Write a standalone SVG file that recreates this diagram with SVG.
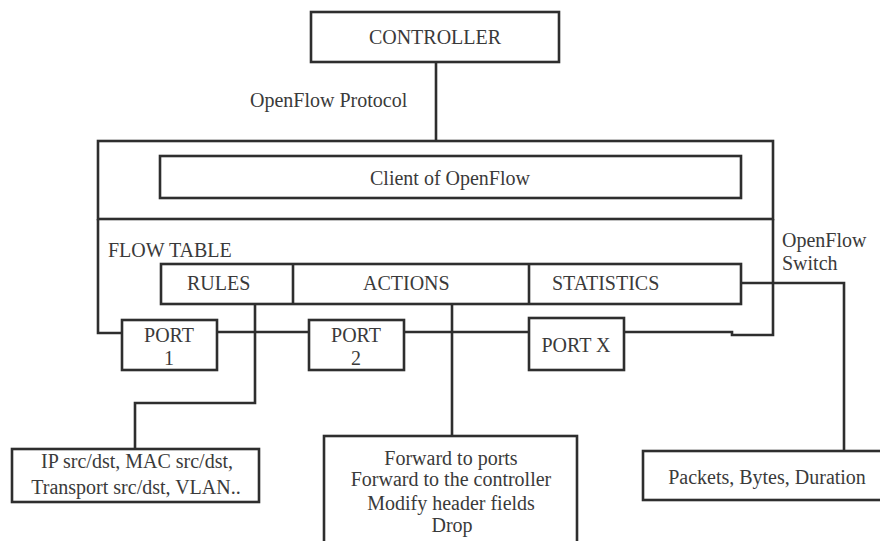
<svg xmlns="http://www.w3.org/2000/svg" width="880" height="541" viewBox="0 0 880 541">
  <style>
    .box { fill: #ffffff; stroke: #2e2e2e; stroke-width: 2.6; }
    .wire { fill: none; stroke: #2e2e2e; stroke-width: 2.6; stroke-linejoin: miter; }
    text { font-family: "Liberation Serif", "Times New Roman", serif; font-size: 20px; fill: #3a3a3a; }
    .c { text-anchor: middle; }
  </style>

  <rect width="880" height="541" fill="#ffffff"/>

  <!-- connectors and the open lower frame of the switch -->
  <g id="connectors">
    <!-- controller to switch -->
    <line class="wire" x1="436" y1="62" x2="436" y2="141"/>
    <!-- switch frame sides down to the ports -->
    <polyline class="wire" points="98,219 98,333 122,333"/>
    <polyline class="wire" points="773,219 773,335 732,335 732,332 624,332"/>
    <!-- port bus -->
    <line class="wire" x1="217" y1="332" x2="309" y2="332"/>
    <line class="wire" x1="404" y1="332" x2="529" y2="332"/>
    <!-- rules to match fields -->
    <polyline class="wire" points="255,304 255,403 135,403 135,449"/>
    <!-- actions to action list -->
    <line class="wire" x1="452" y1="304" x2="452" y2="436"/>
    <!-- statistics to counters -->
    <polyline class="wire" points="741,283 844,283 844,451"/>
  </g>

  <g id="controller">
    <rect class="box" x="311" y="12" width="248" height="50"/>
    <text class="c" x="435" y="44">CONTROLLER</text>
  </g>

  <g id="protocol-label">
    <text x="250" y="107">OpenFlow  Protocol</text>
  </g>

  <g id="switch">
    <rect class="box" x="98" y="141" width="675" height="78"/>
    <text x="782" y="247">OpenFlow</text>
    <text x="782" y="270">Switch</text>
  </g>

  <g id="client">
    <rect class="box" x="160" y="156" width="581" height="42"/>
    <text class="c" x="450" y="185">Client of OpenFlow</text>
  </g>

  <g id="flow-table">
    <text x="108" y="257">FLOW TABLE</text>
    <rect class="box" x="161" y="264" width="580" height="40"/>
    <line class="wire" x1="293" y1="264" x2="293" y2="304"/>
    <line class="wire" x1="529" y1="264" x2="529" y2="304"/>
  </g>

  <g id="rules">
    <text x="187" y="290">RULES</text>
  </g>

  <g id="actions">
    <text x="363" y="290">ACTIONS</text>
  </g>

  <g id="statistics">
    <text x="552" y="290">STATISTICS</text>
  </g>

  <g id="port-1">
    <rect class="box" x="122" y="320" width="95" height="50"/>
    <text class="c" x="169" y="342">PORT</text>
    <text class="c" x="169" y="365">1</text>
  </g>

  <g id="port-2">
    <rect class="box" x="309" y="320" width="95" height="50"/>
    <text class="c" x="356" y="342">PORT</text>
    <text class="c" x="356" y="365">2</text>
  </g>

  <g id="port-x">
    <rect class="box" x="529" y="318" width="95" height="52"/>
    <text class="c" x="576" y="352">PORT X</text>
  </g>

  <g id="match-fields">
    <rect class="box" x="12" y="449" width="247" height="53"/>
    <text class="c" x="137" y="468">IP src/dst, MAC src/dst,</text>
    <text class="c" x="136" y="494">Transport src/dst, VLAN..</text>
  </g>

  <g id="action-list">
    <rect class="box" x="324" y="436" width="253" height="120"/>
    <text class="c" x="451" y="465">Forward to ports</text>
    <text class="c" x="451" y="486">Forward to the controller</text>
    <text class="c" x="451" y="510">Modify header fields</text>
    <text class="c" x="452" y="532">Drop</text>
  </g>

  <g id="counters">
    <rect class="box" x="643" y="451" width="260" height="49"/>
    <text class="c" x="767" y="484">Packets, Bytes, Duration</text>
  </g>
</svg>
